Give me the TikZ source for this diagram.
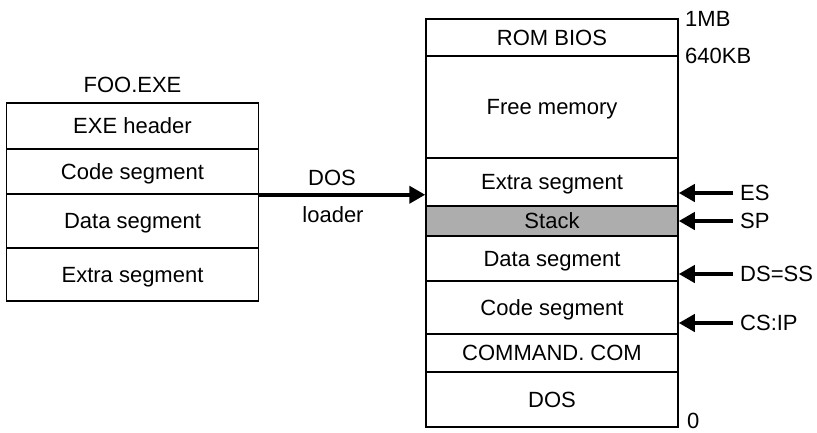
\documentclass[tikz,border=0pt]{standalone}
\usepackage{fontspec}
\setmainfont{Liberation Sans}
\usetikzlibrary{arrows.meta}
\begin{document}
\begin{tikzpicture}[x=1pt,y=-1pt,
  seg/.style={draw, line width=1.5pt, minimum width=252pt, inner sep=0pt, text depth=0pt, font=\fontsize{22}{26}\selectfont},
  lbl/.style={inner sep=0pt, font=\fontsize{22}{26}\selectfont},
  ptr/.style={line width=4pt, -{Triangle[length=16pt,width=17pt]}},
]
\useasboundingbox (0,0) rectangle (817,432);
% left: FOO.EXE
\node[lbl] (title) at (132.5,85) {FOO.EXE};
\node[seg, minimum height=46pt] (lhdr) at (132.5,126) {EXE header};
\node[seg, minimum height=45pt] (lcode) at (132.5,171.5) {Code segment};
\node[seg, minimum height=54pt] (ldata) at (132.5,221) {Data segment};
\node[seg, minimum height=53pt] (lextra) at (132.5,274.5) {Extra segment};
% right: memory map
\node[seg, minimum height=37pt] (rom) at (552,37.5) {ROM BIOS};
\node[seg, minimum height=102pt] (free) at (552,107) {Free memory};
\node[seg, minimum height=48pt] (rextra) at (552,182) {Extra segment};
\node[seg, minimum height=30pt, fill=black!32] (stack) at (552,221) {Stack};
\node[seg, minimum height=45pt] (rdata) at (552,258.5) {Data segment};
\node[seg, minimum height=53pt] (rcode) at (552,307.5) {Code segment};
\node[seg, minimum height=38pt] (cmd) at (552,353) {COMMAND. COM};
\node[seg, minimum height=55pt] (dos) at (552,399.5) {DOS};
% address labels
\node[lbl, anchor=west] (mb) at (685,19) {1MB};
\node[lbl, anchor=west] (kb) at (685,56) {640KB};
\node[lbl, anchor=west] (zero) at (687,421) {0};
% loader arrow
\draw[ptr] (lcode.south east) -- (lcode.south east -| rextra.west);
\node[lbl] (dosl) at (332,178) {DOS};
\node[lbl] (ldr) at (333,215) {loader};
% register pointers
\coordinate (esT) at (733,193);
\coordinate (spT) at (733,221);
\coordinate (dsT) at (733,274);
\coordinate (csT) at (733,323);
\draw[ptr] (esT) -- (esT -| rextra.east);
\draw[ptr] (spT) -- (spT -| stack.east);
\draw[ptr] (dsT) -- (dsT -| rdata.east);
\draw[ptr] (csT) -- (csT -| rcode.east);
\node[lbl, anchor=west] (es) at (740,193) {ES};
\node[lbl, anchor=west] (sp) at (740,221) {SP};
\node[lbl, anchor=west] (ds) at (740,274) {DS=SS};
\node[lbl, anchor=west] (cs) at (740,323) {CS:IP};
\end{tikzpicture}
\end{document}
